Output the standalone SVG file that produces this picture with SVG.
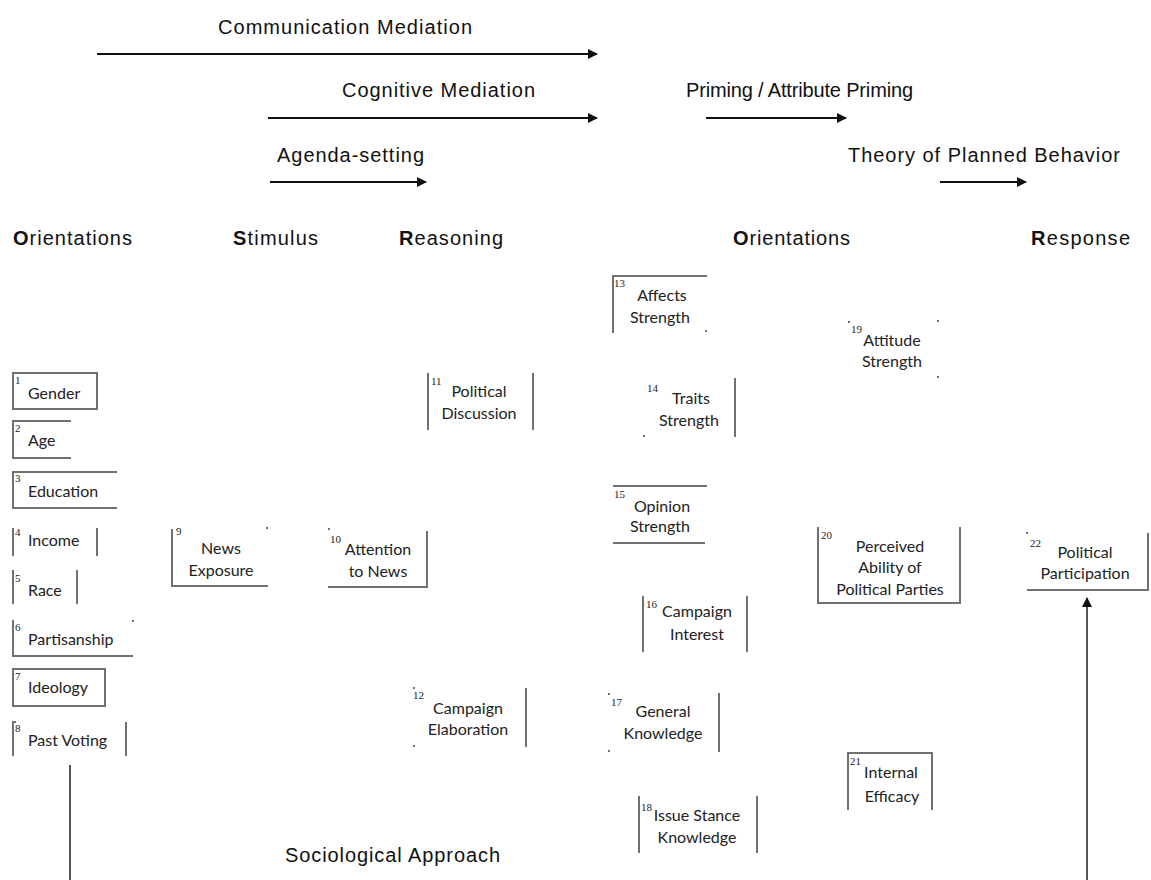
<svg xmlns="http://www.w3.org/2000/svg" width="1151" height="880" viewBox="0 0 1151 880">
<style>
.h{font-family:"Liberation Sans",Arial,sans-serif;font-size:20px;fill:#111}
.b{font-weight:bold}
.t{font-family:Lato,"Open Sans",sans-serif;font-size:16px;fill:#222}
.c{text-anchor:middle}
.n{font-family:"Liberation Serif",serif;font-size:11px;fill:#222}
.e{stroke:#707070;stroke-width:2;fill:none}
.d{fill:#707070}
.a{stroke:#111;stroke-width:2;fill:none;marker-end:url(#ah)}
</style>
<defs>
<marker id="ah" viewBox="0 0 10 10" refX="9" refY="5" markerWidth="5" markerHeight="5" orient="auto" markerUnits="strokeWidth">
<path d="M0,0 L10,5 L0,10 z" fill="#111"/>
</marker>
</defs>
<rect width="1151" height="880" fill="#fff"/>

<g id="headings">
<text class="h" x="218" y="34" textLength="254">Communication Mediation</text>
<text class="h" x="342" y="97" textLength="193">Cognitive Mediation</text>
<text class="h" x="686" y="97" textLength="227">Priming / Attribute Priming</text>
<text class="h" x="277" y="162" textLength="147">Agenda-setting</text>
<text class="h" x="848" y="162" textLength="272">Theory of Planned Behavior</text>
<text class="h" x="13" y="245" textLength="119"><tspan class="b">O</tspan>rientations</text>
<text class="h" x="233" y="245" textLength="85"><tspan class="b">S</tspan>timulus</text>
<text class="h" x="399" y="245" textLength="104"><tspan class="b">R</tspan>easoning</text>
<text class="h" x="733" y="245" textLength="117"><tspan class="b">O</tspan>rientations</text>
<text class="h" x="1031" y="245" textLength="99"><tspan class="b">R</tspan>esponse</text>
<text class="h" x="285" y="862" textLength="215">Sociological Approach</text>
</g>

<g id="connectors">
<line class="a" x1="97" y1="54" x2="597" y2="54"/>
<line class="a" x1="268" y1="118" x2="597" y2="118"/>
<line class="a" x1="706" y1="118" x2="846" y2="118"/>
<line class="a" x1="270" y1="182" x2="426" y2="182"/>
<line class="a" x1="940" y1="182" x2="1026" y2="182"/>
<line x1="70" y1="765" x2="70" y2="880" stroke="#555" stroke-width="2"/>
<line class="a" x1="1087" y1="880" x2="1087" y2="598" style="stroke:#555"/>
</g>

<g id="n1">
<rect class="e" x="13" y="373" width="84" height="36"/>
<text class="n" x="15" y="384">1</text><text class="t" x="28" y="399">Gender</text>
</g>
<g id="n2">
<path class="e" d="M71,421 H13 V458 H71"/>
<text class="n" x="15" y="432">2</text><text class="t" x="28" y="446">Age</text>
</g>
<g id="n3">
<path class="e" d="M117,472 H13 V508 H117"/>
<text class="n" x="15" y="482">3</text><text class="t" x="28" y="497">Education</text>
</g>
<g id="n4">
<path class="e" d="M13,528 V556 M97,528 V556"/>
<text class="n" x="15" y="536">4</text><text class="t" x="28" y="546">Income</text>
</g>
<g id="n5">
<path class="e" d="M13,570 V604 M77,570 V604"/>
<text class="n" x="15" y="582">5</text><text class="t" x="28" y="596">Race</text>
</g>
<g id="n6">
<path class="e" d="M13,620 V656 H133"/><rect class="d" x="132" y="620" width="2" height="2"/>
<text class="n" x="15" y="631">6</text><text class="t" x="28" y="645">Partisanship</text>
</g>
<g id="n7">
<rect class="e" x="13" y="669" width="92" height="37"/>
<text class="n" x="15" y="680">7</text><text class="t" x="28" y="693">Ideology</text>
</g>
<g id="n8">
<path class="e" d="M16,722 H13 V756 M126,722 V756"/>
<text class="n" x="15" y="732">8</text><text class="t" x="28" y="746">Past Voting</text>
</g>
<g id="n9">
<path class="e" d="M172,529 V586 H268"/><rect class="d" x="266" y="527" width="2" height="2"/>
<text class="n" x="176" y="535">9</text>
<text class="t c" x="221" y="554">News</text><text class="t c" x="221" y="576">Exposure</text>
</g>
<g id="n10">
<path class="e" d="M427,531 V587 H328"/><rect class="d" x="328" y="528" width="2" height="2"/>
<text class="n" x="330" y="543">10</text>
<text class="t c" x="378" y="555">Attention</text><text class="t c" x="378" y="577">to News</text>
</g>
<g id="n11">
<path class="e" d="M428,373 V430 M533,373 V430"/>
<text class="n" x="431" y="385">11</text>
<text class="t c" x="479" y="397">Political</text><text class="t c" x="479" y="419">Discussion</text>
</g>
<g id="n12">
<path class="e" d="M526,688 V747"/><rect class="d" x="413" y="687" width="2" height="2"/><rect class="d" x="413" y="745" width="2" height="2"/>
<text class="n" x="413" y="699">12</text>
<text class="t c" x="468" y="714">Campaign</text><text class="t c" x="468" y="735">Elaboration</text>
</g>
<g id="n13">
<path class="e" d="M613,333 V276 H707"/><rect class="d" x="705" y="330" width="2" height="2"/>
<text class="n" x="614" y="287">13</text>
<text class="t c" x="662" y="301">Affects</text><text class="t c" x="660" y="323">Strength</text>
</g>
<g id="n14">
<path class="e" d="M735,378 V437"/><rect class="d" x="643" y="435" width="2" height="2"/>
<text class="n" x="647" y="392">14</text>
<text class="t c" x="691" y="404">Traits</text><text class="t c" x="689" y="426">Strength</text>
</g>
<g id="n15">
<path class="e" d="M613,486 H707 M613,543 H705"/>
<text class="n" x="614" y="498">15</text>
<text class="t c" x="662" y="512">Opinion</text><text class="t c" x="660" y="532">Strength</text>
</g>
<g id="n16">
<path class="e" d="M643,596 V652 M747,596 V652"/>
<text class="n" x="646" y="608">16</text>
<text class="t c" x="697" y="617">Campaign</text><text class="t c" x="697" y="640">Interest</text>
</g>
<g id="n17">
<path class="e" d="M719,693 V752"/><rect class="d" x="608" y="693" width="2" height="2"/><rect class="d" x="608" y="750" width="2" height="2"/>
<text class="n" x="611" y="706">17</text>
<text class="t c" x="663" y="717">General</text><text class="t c" x="663" y="739">Knowledge</text>
</g>
<g id="n18">
<path class="e" d="M639,796 V853 M757,796 V853"/>
<text class="n" x="641" y="811">18</text>
<text class="t c" x="697" y="821">Issue Stance</text><text class="t c" x="697" y="843">Knowledge</text>
</g>
<g id="n19">
<rect class="d" x="848" y="321" width="2" height="2"/><rect class="d" x="937" y="320" width="2" height="2"/><rect class="d" x="937" y="376" width="2" height="2"/>
<text class="n" x="851" y="333">19</text>
<text class="t c" x="892" y="346">Attitude</text><text class="t c" x="892" y="367">Strength</text>
</g>
<g id="n20">
<path class="e" d="M818,527 V603 H960 V527"/>
<text class="n" x="821" y="539">20</text>
<text class="t c" x="890" y="552">Perceived</text><text class="t c" x="890" y="573">Ability of</text><text class="t c" x="890" y="595">Political Parties</text>
</g>
<g id="n21">
<path class="e" d="M848,810 V753 H932 V810"/>
<text class="n" x="850" y="765">21</text>
<text class="t c" x="891" y="778">Internal</text><text class="t c" x="892" y="802">Efficacy</text>
</g>
<g id="n22">
<path class="e" d="M1148,533 V590 H1027"/><rect class="d" x="1026" y="532" width="2" height="2"/>
<text class="n" x="1030" y="547">22</text>
<text class="t c" x="1085" y="558">Political</text><text class="t c" x="1085" y="579">Participation</text>
</g>
</svg>
